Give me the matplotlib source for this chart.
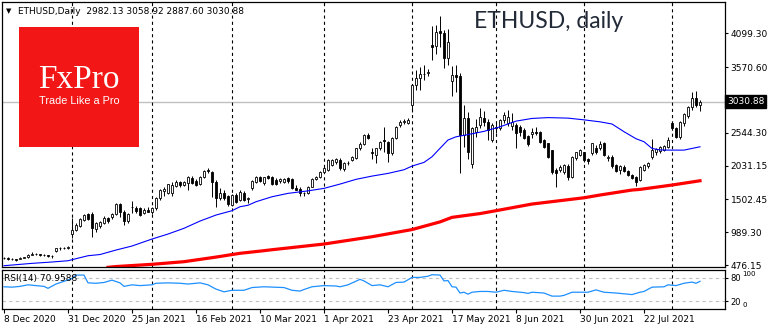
import numpy as np
import pandas as pd
import matplotlib
matplotlib.use('Agg')
import matplotlib.pyplot as plt
from matplotlib.patches import Rectangle
from matplotlib.transforms import blended_transform_factory

# daily candles ETHUSD (weekday bars)
opens = [590, 580, 575, 565, 575, 590, 595, 635, 650, 645, 630, 625, 620, 690, 735, 740, 745,
         955, 1023, 1090, 1185, 1270, 1273, 1040, 1085, 1127, 1205, 1230, 1270, 1425, 1300, 1170, 1380, 1360, 1360, 1285, 1340,
         1310, 1365, 1518, 1640, 1596, 1600, 1710, 1777, 1727, 1752, 1830, 1793, 1745, 1855, 1960, 1934, 1777, 1518, 1605, 1553,
         1413, 1570, 1490, 1605, 1510, 1674, 1777, 1846, 1760, 1865, 1855, 1800, 1795, 1780, 1830, 1815, 1675, 1670, 1600, 1600, 1700, 1820, 1850,
         1930, 1960, 2040, 2085, 2125, 1970, 2065, 2116, 2142, 2298, 2365, 2505, 2245, 2195, 2298, 2425, 2402, 2230, 2455, 2663, 2715, 2700,
         2975, 3287, 3392, 3455, 3470, 3910, 3896, 4135, 4095, 3705, 3355, 3440, 3430, 2505, 2768, 2055, 2560, 2665, 2770, 2715, 2430,
         2610, 2615, 2740, 2700, 2652, 2665, 2636, 2585, 2495, 2520, 2550, 2550, 2430, 2377, 2270, 1960, 1960, 1935, 2030, 1855, 2152, 2195,
         2236, 2127, 2220, 2300, 2308, 2377, 2150, 2168, 2040, 1960, 2010, 1945, 1880, 1855, 1805, 1965, 2030, 2160, 2250, 2260, 2280, 2325,
         2690, 2610, 2480, 2700, 2805, 2940, 3080, 2982.13]
highs = [600, 595, 585, 570, 600, 600, 645, 675, 665, 650, 645, 640, 630, 745, 755, 765, 770,
         1205, 1130, 1210, 1280, 1290, 1300, 1150, 1170, 1240, 1230, 1290, 1440, 1440, 1330, 1290, 1480, 1400, 1380, 1370, 1380,
         1380, 1540, 1670, 1700, 1750, 1780, 1800, 1790, 1790, 1870, 1860, 1820, 1870, 1960, 1990, 1950, 1800, 1680, 1650, 1570,
         1580, 1600, 1650, 1630, 1545, 1800, 1860, 1870, 1850, 1880, 1870, 1830, 1840, 1830, 1850, 1830, 1725, 1690, 1625, 1710, 1840, 1870, 1940,
         2000, 2140, 2130, 2150, 2145, 2080, 2100, 2175, 2310, 2400, 2520, 2540, 2298, 2310, 2420, 2636, 2420, 2470, 2650, 2740, 2760, 2775,
         3300, 3520, 3575, 3600, 3540, 4210, 4225, 4370, 4146, 4160, 3585, 3600, 3475, 2975, 2870, 2640, 2760, 2925, 2880, 2760, 2700,
         2720, 2760, 2860, 2900, 2850, 2700, 2660, 2620, 2510, 2610, 2640, 2565, 2450, 2390, 2280, 2000, 2040, 2060, 2050, 2180, 2250, 2290,
         2250, 2150, 2390, 2350, 2413, 2400, 2200, 2190, 2050, 2040, 2040, 1960, 1900, 1870, 2020, 2050, 2080, 2440, 2310, 2330, 2350, 2470,
         2700, 2640, 2730, 2850, 2960, 3185, 3200, 3058.92]
lows = [565, 560, 550, 545, 570, 580, 590, 625, 630, 615, 610, 600, 580, 680, 715, 725, 730,
        900, 1000, 1070, 1160, 1180, 918, 990, 1060, 1110, 1140, 1200, 1250, 1220, 1100, 1140, 1290, 1290, 1240, 1270, 1300,
        1280, 1335, 1500, 1560, 1580, 1560, 1690, 1700, 1710, 1650, 1740, 1710, 1730, 1840, 1920, 1543, 1387, 1490, 1500, 1400,
        1400, 1450, 1470, 1480, 1440, 1650, 1760, 1780, 1730, 1820, 1720, 1730, 1760, 1760, 1765, 1660, 1645, 1553, 1560, 1590, 1690, 1800, 1830,
        1910, 1950, 2020, 2060, 1960, 1950, 2040, 2100, 2130, 2280, 2350, 2440, 2140, 2064, 2280, 2250, 2090, 2200, 2440, 2640, 2680, 2680,
        2870, 3210, 3210, 3365, 3430, 3680, 3780, 3885, 3550, 3600, 3115, 3185, 1910, 2325, 2140, 2000, 2480, 2620, 2650, 2430, 2400,
        2540, 2590, 2700, 2650, 2585, 2308, 2500, 2440, 2340, 2455, 2505, 2380, 2310, 2150, 1900, 1700, 1930, 1900, 1800, 1840, 2120, 2180,
        2090, 2050, 2200, 2210, 2280, 2180, 2100, 2000, 1930, 1900, 1930, 1870, 1820, 1715, 1790, 1950, 2000, 2140, 2200, 2230, 2260, 2300,
        2580, 2460, 2450, 2650, 2780, 2900, 2950, 2887.60]
closes = [580, 575, 565, 555, 590, 595, 635, 650, 645, 630, 625, 620, 610, 735, 740, 745, 752,
          1023, 1101, 1190, 1255, 1200, 1050, 1125, 1150, 1205, 1170, 1270, 1425, 1300, 1170, 1280, 1390, 1315, 1260, 1340, 1310,
          1365, 1518, 1647, 1660, 1737, 1720, 1777, 1727, 1777, 1855, 1752, 1725, 1855, 1948, 1945, 1777, 1518, 1605, 1518, 1428,
          1570, 1465, 1620, 1490, 1525, 1793, 1846, 1795, 1846, 1830, 1736, 1750, 1820, 1815, 1790, 1675, 1650, 1600, 1595, 1690, 1820, 1850, 1925,
          1985, 2115, 2115, 2140, 1990, 2064, 2070, 2158, 2298, 2365, 2505, 2460, 2220, 2298, 2402, 2410, 2220, 2455, 2636, 2715, 2718, 2750,
          3287, 3392, 3460, 3465, 3490, 3885, 4120, 4095, 3705, 3965, 3440, 3420, 2505, 2768, 2245, 2610, 2640, 2785, 2710, 2585, 2665,
          2640, 2740, 2820, 2790, 2705, 2535, 2548, 2455, 2375, 2560, 2545, 2400, 2325, 2168, 1935, 1910, 2010, 2040, 1855, 2168, 2236, 2270,
          2117, 2095, 2377, 2240, 2360, 2195, 2170, 2025, 1945, 2020, 1945, 1880, 1830, 1777, 2010, 2035, 2070, 2270, 2290, 2320, 2340, 2430,
          2610, 2480, 2715, 2835, 2940, 3080, 2975, 3030.88]

# moving averages read at sampled bars
blue_idx = [0, 7, 12, 16, 18, 21, 24, 28, 32, 37, 41, 45, 49, 53, 57, 59, 61, 63, 67, 71, 76, 80, 84, 88, 92, 96, 100,
            102, 105, 107, 109, 111, 113, 116, 120, 124, 128, 132, 136, 141, 145, 149, 152, 155, 158, 160, 162, 164, 166, 170, 174]
blue_ma = [465, 502, 523, 543, 575, 621, 640, 710, 773, 882, 960, 1050, 1163, 1257, 1325, 1387, 1410, 1465, 1543, 1596, 1635, 1674, 1741, 1815, 1866, 1908, 1965,
           2022, 2080, 2168, 2300, 2430, 2480, 2515, 2565, 2636, 2725, 2767, 2780, 2772, 2745, 2714, 2680, 2560, 2450, 2403, 2298, 2275, 2272, 2272, 2324]
red_idx = [26, 28, 37, 45, 53, 59, 64, 67, 80, 92, 102, 109, 112, 119, 123, 132, 145, 149, 157, 159, 167, 174]
red_ma = [440, 452, 487, 528, 600, 659, 693, 715, 804, 918, 1030, 1150, 1221, 1280, 1325, 1429, 1527, 1570, 1648, 1658, 1726, 1793]

rsi_idx = [0, 2, 4, 6, 8, 10, 11, 13, 15, 17, 18, 20, 21, 23, 25, 27, 29, 30, 32, 34, 37, 38, 41, 44, 46, 49, 51, 53, 55, 57,
           60, 62, 65, 70, 72, 74, 75, 77, 80, 83, 84, 86, 89, 90, 92, 94, 96, 98, 100, 102, 104, 106, 107, 109, 110, 111, 112,
           113, 114, 115, 116, 117, 119, 121, 123, 125, 127, 130, 131, 132, 135, 137, 139, 140, 142, 144, 146, 148, 150, 153,
           155, 157, 159, 160, 162, 165, 166, 168, 170, 172, 173, 174]
rsi_vals = [57, 56, 58, 62, 60, 58, 53, 64, 71, 78, 87, 87, 67, 66, 68, 74, 67, 58, 62, 60, 62, 66, 67, 66, 64, 67, 62, 51, 44, 48,
            48, 55, 57, 55, 48, 46, 50, 57, 60, 59, 57, 62, 76, 72, 60, 62, 57, 68, 69, 81, 81, 84, 88, 87, 72, 73, 57,
            56, 41, 43, 38, 43, 45, 45, 43, 48, 45, 42, 40, 43, 41, 33, 33, 35, 43, 43, 43, 49, 43, 41,
            39, 37, 43, 45, 56, 57, 62, 60, 66, 69, 66, 71]

price_ticks = [476.15, 989.30, 1502.45, 2031.15, 2544.30, 3570.60, 4099.30]
rsi_levels = [20, 80]
last_price = 3030.88
holidays = ['2020-12-25', '2021-01-01']

dates = pd.bdate_range('2020-12-08', periods=len(closes), freq='C', holidays=holidays)
x = np.arange(len(closes))
o = np.array(opens, dtype=float)
h = np.array(highs, dtype=float)
l = np.array(lows, dtype=float)
c = np.array(closes, dtype=float)

fig = plt.figure(figsize=(7.7, 3.3), dpi=100)
ax = fig.add_axes([2/770, 1-267/330, 723/770, 265/330])
axr = fig.add_axes([2/770, 1-309/330, 723/770, 39/330])

# month separators
month_starts = [i for i in range(1, len(dates)) if dates[i].month != dates[i-1].month]
for a in (ax, axr):
    for i in month_starts:
        a.axvline(i, color='black', lw=0.8, ls=(0, (2.8, 2.8)), zorder=1)

ax.axhline(last_price, color='#c0c0c0', lw=1, zorder=0.5)

# candles
up = c >= o
body_lo = np.minimum(o, c)
body_h = np.maximum(np.abs(c - o), 7)
ax.vlines(x, l, h, color='black', lw=0.7, zorder=3)
ax.bar(x[up], body_h[up], 0.55, bottom=body_lo[up], facecolor='white', edgecolor='black', lw=0.6, zorder=4)
ax.bar(x[~up], body_h[~up], 0.55, bottom=body_lo[~up], facecolor='black', edgecolor='black', lw=0.6, zorder=4)

ax.plot(red_idx, red_ma, color='#ff0000', lw=2.3, zorder=2)
ax.plot(blue_idx, blue_ma, color='#0000ff', lw=0.8, zorder=5)

ax.set_xlim(-0.5, 180.25)
ax.set_ylim(445, 4587)
ax.set_xticks([])
ax.yaxis.tick_right()
ax.set_yticks(price_ticks)
ax.set_yticklabels(['%.2f' % v for v in price_ticks])
ax.tick_params(axis='y', length=2.5, width=0.8, labelsize=6.5, pad=1.5)
for s in ax.spines.values():
    s.set_linewidth(0.9)

trans = blended_transform_factory(ax.transAxes, ax.transData)
ax.text(1.003, last_price, '%.2f' % last_price, transform=trans, va='center', ha='left',
        color='white', fontsize=6.5, bbox=dict(boxstyle='square,pad=0.2', fc='black', ec='black'))

# RSI panel
axr.plot(rsi_idx, rsi_vals, color='#1e90ff', lw=0.9, zorder=3)
for lev in rsi_levels:
    axr.axhline(lev, color='#c0c0c0', lw=0.8, ls=(0, (3, 3)), zorder=0.5)
axr.set_xlim(-0.5, 180.25)
axr.set_ylim(0, 100)
axr.yaxis.tick_right()
axr.set_yticks(rsi_levels)
axr.set_yticklabels([str(v) for v in rsi_levels])
axr.tick_params(axis='y', length=2.5, width=0.8, labelsize=6, pad=1.5)
for s in axr.spines.values():
    s.set_linewidth(0.9)
transr = blended_transform_factory(axr.transAxes, axr.transData)
axr.text(1.024, 97, '100', transform=transr, va='top', ha='left', fontsize=5)
axr.text(1.024, 3, '0', transform=transr, va='bottom', ha='left', fontsize=5)
axr.text(0.006, 78, 'RSI(14) 70.9588', fontsize=6.5, va='center', ha='left', zorder=4)

tick_pos = list(range(0, len(dates), 16))
axr.set_xticks(tick_pos)
axr.set_xticklabels(['%d %s' % (dates[i].day, dates[i].strftime('%b %Y')) for i in tick_pos], ha='left')
axr.tick_params(axis='x', length=3, width=0.8, labelsize=6.5, pad=1.5)

# header and logo
fig.text(6/770, 1-11/330, '\u25bc', fontsize=5, va='center')
fig.text(18/770, 1-11/330, 'ETHUSD,Daily  2982.13 3058.92 2887.60 3030.88', fontsize=6.5, va='center')
fig.add_artist(Rectangle((19/770, 1-147/330), 120/770, 120/330, transform=fig.transFigure,
                         facecolor='#f21616', edgecolor='none', zorder=6))
fig.text(79/770, 1-80/330, 'FxPro', family='Liberation Serif', fontsize=24, color='white',
         ha='center', va='center', zorder=7)
fig.text(79/770, 1-101/330, 'Trade Like a Pro', family='Liberation Sans', fontsize=7.8, color='white',
         ha='center', va='center', zorder=7)
fig.text(474/770, 1-21/330, 'ETHUSD, daily', family='Lato', fontsize=16.5,
         color='#222a38', ha='left', va='center', zorder=7)

fig.savefig('out.png', dpi=100)
